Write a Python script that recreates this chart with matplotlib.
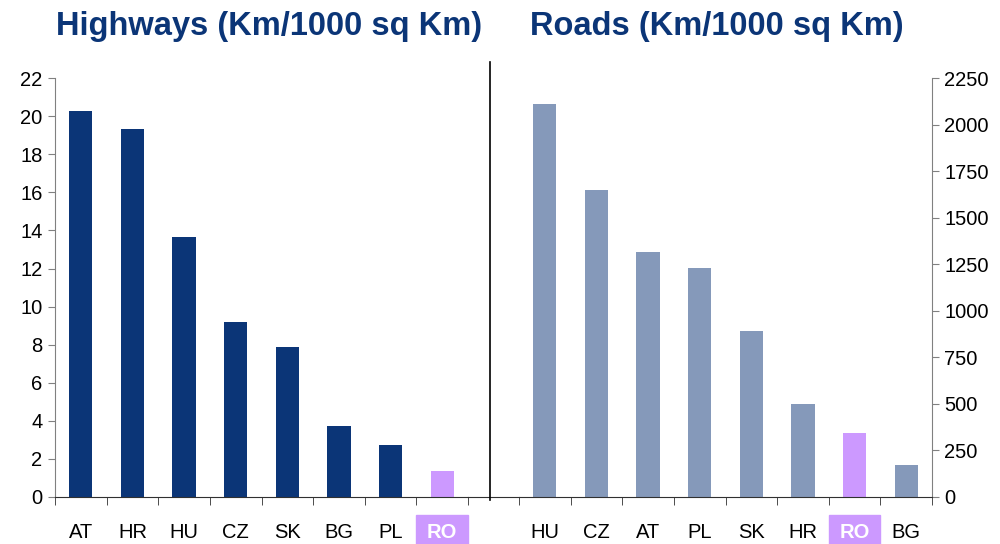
import matplotlib.pyplot as plt
from matplotlib.patches import Rectangle
from matplotlib.lines import Line2D
import matplotlib.transforms as mtransforms

plt.rcParams['font.family'] = ['Liberation Sans', 'DejaVu Sans']

# --- data ---
hw_countries = ['AT', 'HR', 'HU', 'CZ', 'SK', 'BG', 'PL', 'RO']
hw_values = [20.25, 19.35, 13.65, 9.2, 7.9, 3.75, 2.75, 1.35]

rd_countries = ['HU', 'CZ', 'AT', 'PL', 'SK', 'HR', 'RO', 'BG']
rd_values = [2110, 1650, 1315, 1230, 890, 500, 345, 170]

NAVY = '#0b3577'
STEEL = '#8599ba'
LILAC = '#cc99ff'
TITLE_COL = '#0b3577'

fig = plt.figure(figsize=(10, 5.44), dpi=100)
ax1 = fig.add_axes([0.055, 0.0864, 0.413, 0.770])
ax2 = fig.add_axes([0.519, 0.0864, 0.413, 0.770])


def style_axis(ax, countries, values, base_col, side):
    cols = [LILAC if c == 'RO' else base_col for c in countries]
    x = range(len(countries))
    ax.bar(x, values, width=0.45, color=cols)
    ax.set_xlim(-0.5, len(countries) - 0.5)
    for s in ['top', 'left', 'right']:
        ax.spines[s].set_visible(False)
    ax.spines['bottom'].set_color('#303030')
    ax.spines[side].set_visible(True)
    ax.spines[side].set_color('#808080')
    ax.yaxis.set_ticks_position(side)
    ax.tick_params(axis='y', direction='out', length=5, color='#808080',
                   labelsize=14.5, pad=4)
    # labels at category centres, tick marks at boundaries
    ax.set_xticks(list(x))
    ax.set_xticklabels(countries, fontsize=14.5)
    ax.tick_params(axis='x', which='major', length=0, pad=19)
    ax.set_xticks([i + 0.5 for i in range(len(countries) - 1)] +
                  [-0.5, len(countries) - 0.5], minor=True)
    ax.tick_params(axis='x', which='minor', length=6, color='#303030')
    trans = mtransforms.blended_transform_factory(ax.transData, ax.transAxes)
    for i, lab in enumerate(ax.get_xticklabels()):
        if countries[i] == 'RO':
            lab.set_color('white')
            lab.set_fontweight('bold')
            ax.add_patch(Rectangle((i - 0.5, -0.115), 1.0, 0.072,
                                   transform=trans, color=LILAC,
                                   clip_on=False, zorder=0))


style_axis(ax1, hw_countries, hw_values, NAVY, 'left')
ax1.set_ylim(0, 22)
ax1.set_yticks(range(0, 23, 2))

style_axis(ax2, rd_countries, rd_values, STEEL, 'right')
ax2.set_ylim(0, 2250)
ax2.set_yticks(range(0, 2251, 250))

# gap filler for the baseline and the black divider between panels
fig.add_artist(Line2D([0.468, 0.519], [0.0864, 0.0864], color='#303030', lw=0.8))
fig.add_artist(Line2D([0.49, 0.49], [0.081, 0.886], color='black', lw=1.2))

fig.text(0.269, 0.9357, 'Highways (Km/1000 sq Km)', ha='center', va='baseline',
         fontsize=23.5, fontweight='bold', color=TITLE_COL)
fig.text(0.717, 0.9357, 'Roads (Km/1000 sq Km)', ha='center', va='baseline',
         fontsize=23.5, fontweight='bold', color=TITLE_COL)

plt.savefig('out.png', dpi=100)
